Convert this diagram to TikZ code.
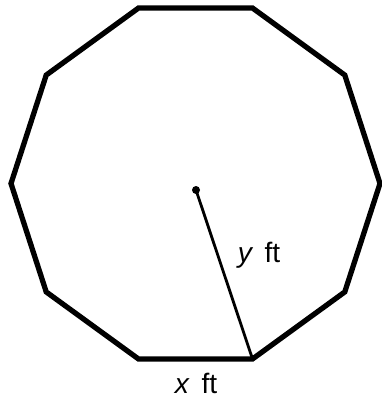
\documentclass[tikz,border=0pt]{standalone}
\usepackage{fontspec}
\setmainfont{Liberation Sans}
\usetikzlibrary{calc}

\begin{document}
\begin{tikzpicture}[x=0.02cm, y=-0.02cm,
  edge/.style={line width=3pt, line join=miter},
  radius/.style={line width=1.6pt},
  lbl/.style={font=\fontsize{16}{19}\selectfont, inner sep=0pt}
]
\useasboundingbox (0,0) rectangle (382,399);
% decagon
\foreach \k in {0,...,9}
  \coordinate (v\k) at ($(195.5,183.5)+({36*\k}:184.5 and -184.5)$);
\draw[edge] (v0) -- (v1) -- (v2) -- (v3) -- (v4) -- (v5) -- (v6) -- (v7) -- (v8) -- (v9) -- cycle;
\coordinate (ctr) at (196,190);
\fill (ctr) circle (4);
\draw[radius] (ctr) -- (v8);
\node[lbl] (ylab) at (259,255) {\itshape y\upshape\hspace{0.45em}ft};
\node[lbl] (xlab) at (196,383) {\itshape x\upshape\hspace{0.45em}ft};
\end{tikzpicture}
\end{document}
